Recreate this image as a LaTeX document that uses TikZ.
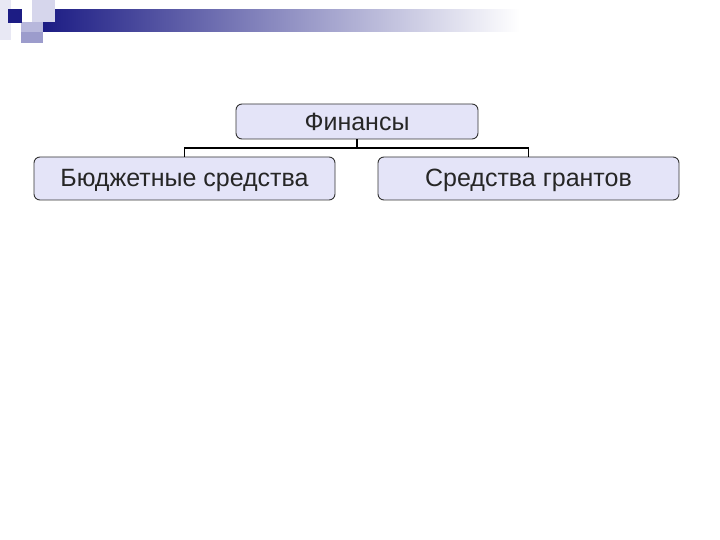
\documentclass[tikz,border=0pt]{standalone}
\usepackage{fontspec}
\setmainfont{Liberation Sans}
\begin{document}
\begin{tikzpicture}[x=1pt,y=-1pt,
  box/.style={draw=black!80, line width=0.9pt, rounded corners=6pt, fill=boxfill,
    minimum height=43pt, inner sep=0pt, text height=21pt, text depth=4pt,
    font=\fontsize{25}{29}\selectfont, text=black!85},
  link/.style={draw=black, line width=1.4pt}]
\definecolor{boxfill}{HTML}{E4E4F8}
\definecolor{navy}{HTML}{1C1C84}
\useasboundingbox (0,0) rectangle (720,540);
\fill[white] (0,0) rectangle (720,540);
% header decoration
\fill[color={rgb,255:red,232;green,232;blue,244}] (0,0) rectangle (11,40);
\shade[left color=navy, right color=white] (43,10) rectangle (520,32);
\fill[color={rgb,255:red,214;green,214;blue,236}] (32,0) rectangle (55,22);
\fill[color={rgb,255:red,184;green,184;blue,220}] (21,22) rectangle (43,32);
\fill[color={rgb,255:red,156;green,156;blue,204}] (21,32) rectangle (43,43);
\fill[navy] (8,9) rectangle (22,23);
% nodes
\node[box, minimum width=242pt, minimum height=35pt, text height=22pt] (fin) at (357,121.5) {Финансы};
\node[box, minimum width=301pt] (bud) at (184.5,178.5) {Бюджетные средства};
\node[box, minimum width=301pt] (gr) at (528.5,178.5) {Средства грантов};
\coordinate (j) at (357,148);
\draw[link] (fin.south) -- (j);
\draw[link] (bud.north) |- (j) -| (gr.north);
\end{tikzpicture}
\end{document}
